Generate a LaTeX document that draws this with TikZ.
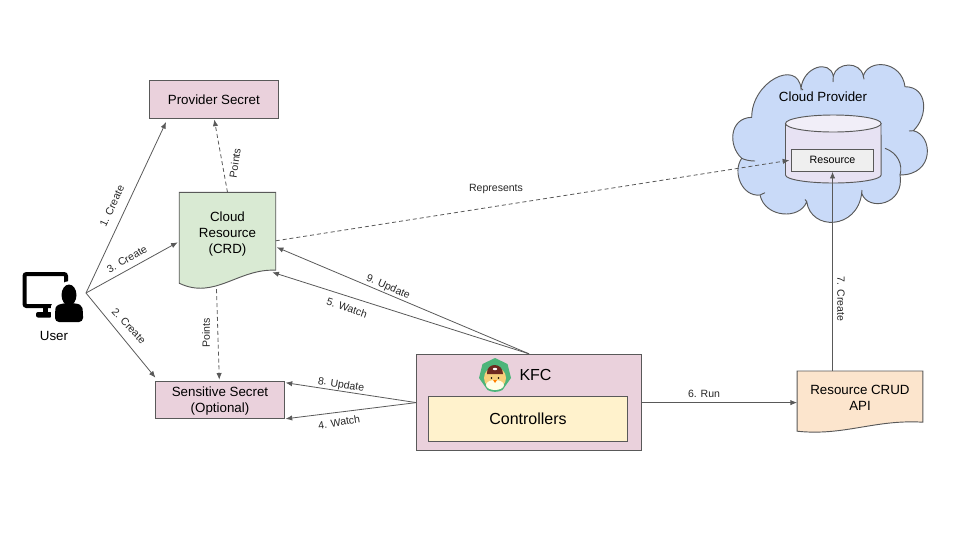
\documentclass[tikz,border=0pt]{standalone}
\usepackage{fontspec}
\setmainfont{Liberation Sans}
\usetikzlibrary{positioning, arrows.meta}
\definecolor{linegray}{HTML}{595959}
\definecolor{pinkfill}{HTML}{EAD1DC}
\definecolor{greenfill}{HTML}{D9EAD3}
\definecolor{yellowfill}{HTML}{FFF2CC}
\definecolor{orangefill}{HTML}{FCE5CD}
\definecolor{bluefill}{HTML}{C9DAF8}
\definecolor{lavfill}{HTML}{E7E2F3}
\definecolor{lavtop}{HTML}{F1EEF8}
\definecolor{grayfill}{HTML}{EFEFEF}
\definecolor{logogreen}{HTML}{4DB57A}
\definecolor{hatbrown}{HTML}{6E2A20}
\definecolor{chickyellow}{HTML}{F6CF7B}
\tikzstyle{block}=[draw=linegray,rectangle,inner sep=0pt,align=center,line width=.7pt]
\tikzstyle{every node}=[font=\fontsize{10}{12.2}\selectfont]
\tikzstyle{lbl}=[inner sep=0pt,font=\fontsize{7.9}{9}\selectfont,text=black!85]
\tikzstyle{outline}=[draw=linegray,line width=.7pt]
\tikzstyle{link}=[-{Latex[length=5pt,width=4pt]},draw=linegray,line width=.6pt]
\tikzstyle{hint}=[dash pattern=on 3pt off 2.2pt]
\begin{document}
\begin{tikzpicture}[x=.75pt,y=-.75pt,>=latex,node distance=34pt]
            \useasboundingbox (0,0) rectangle (960,540);
            % cloud
            \draw[outline,fill=bluefill] (751.7,117.3) .. controls (751.7,81.7) and (797.3,58.7) .. (801,88.3)
                .. controls (803.3,66.7) and (829.7,59) .. (833.3,76)
                .. controls (836.7,62) and (860,60.7) .. (863.3,76)
                .. controls (868.3,58.3) and (901.7,60.7) .. (905,86.7)
                .. controls (928.3,86.7) and (928.3,116.7) .. (913.3,130.7)
                .. controls (933,135) and (935,175) .. (900,175)
                .. controls (905,205) and (868,212) .. (861.7,193.3)
                .. controls (857,230) and (811,231) .. (806.7,201.7)
                .. controls (800,220) and (765,218) .. (760,195)
                .. controls (742,197) and (732,172) .. (741.7,158.3)
                .. controls (728,146) and (729,118) .. (751.7,117.3) -- cycle;
            \draw[outline] (885,148.3) .. controls (898,153) and (903,165) .. (900,175);
            \draw[outline] (741.7,158.3) .. controls (745,160) and (750,161) .. (755,161);
            \draw[outline] (760,195) -- (765,192.7) (806.7,201.7) -- (805,199.5) (861.7,193.3) -- (862,190)
                (801,88.3) -- (803,90) (833.3,76) -- (833,82) (863.3,76) -- (864,79.3) (913.3,130.7) -- (909,131);
            % cylinder
            \draw[outline,fill=lavfill] (785.5,123.5) -- (785.5,175) arc[start angle=180,end angle=0,x radius=47.8,y radius=8] -- (881,123.5) -- cycle;
            \draw[outline,fill=lavtop] (833.3,123.5) ellipse[x radius=47.8,y radius=8.5];
            \node (cloudname) at (823,97) {Cloud Provider};
            \node[block, fill=grayfill, minimum width=61.8pt, minimum height=16.5pt] (resource) at (832.5,160.3) {\fontsize{8}{9}\selectfont Resource};
            % boxes
            \node[block, fill=pinkfill, minimum width=96.4pt, minimum height=28.5pt] (provider) at (213.8,99.5) {Provider Secret};
            \node[block, fill=pinkfill, minimum width=96.9pt, minimum height=27.5pt] (sensitive) at (220,400) {};
            \node[align=center] (sensitivename) at (220,401.3) {Sensitive Secret\\(Optional)};
            \node[block, fill=pinkfill, minimum width=168.4pt, minimum height=72.5pt] (kfc) at (529,402.6) {};
            \node[block, fill=yellowfill, minimum width=149.25pt, minimum height=34pt] (controllers) at (528,418.7) {\fontsize{12}{14}\selectfont Controllers};
            \node (kfcname) at (535.5,374.5) {\fontsize{12}{14}\selectfont KFC};
            % documents
            \node[minimum width=72pt, minimum height=58pt, inner sep=0pt] (crd) at (227.5,231.3) {};
            \draw[outline,fill=greenfill] (crd.south west) -- (crd.north west) -- (crd.north east) -- (crd.south east)
                .. controls ([shift={(-37.5,-2)}]crd.south east) and ([shift={(35.5,30)}]crd.south west) .. ([shift={(0,13)}]crd.south west) -- cycle;
            \node[align=center] (crdname) at ([yshift=-2pt]crd.center) {Cloud\\Resource\\(CRD)};
            \node[minimum width=94pt, minimum height=38pt, inner sep=0pt] (crud) at (860,396.6) {};
            \draw[outline,fill=orangefill] (crud.south west) -- (crud.north west) -- (crud.north east) -- (crud.south east)
                .. controls ([shift={(-48,-3)}]crud.south east) and ([shift={(47,14)}]crud.south west) .. ([shift={(0,9)}]crud.south west) -- cycle;
            \node[align=center] (crudname) at ([yshift=-1pt]crud.center) {Resource CRUD\\API};
            % user icon
            \draw[black,line width=3pt,rounded corners=1.5pt] (24.5,274) rectangle (66,306);
            \fill[black] (43,307) rectangle (48,313);
            \fill[black,rounded corners=1.5pt] (36,312) rectangle (52,317.5);
            \fill[white] (69,295) ellipse[x radius=11,y radius=14];
            \fill[white,rounded corners=4pt] (51,301) rectangle (86,325);
            \fill[black] (69,295) ellipse[x radius=7.5,y radius=10.5];
            \fill[black,rounded corners=3pt] (55,322) -- (55,312) .. controls (56,305) and (61,304) .. (64,303) -- (74,303) .. controls (78,304) and (82,305) .. (83,312) -- (83,322) -- cycle;
            \node (username) at (54,335.5) {User};
            \coordinate (userhub) at (86,293);
            % logo
            \begin{scope}[shift={(495,375)}]
                \fill[logogreen] (0,-17) -- (12.5,-11) -- (16,3) -- (7.5,15) .. controls (3,17.5) and (-3,17.5) .. (-7.5,15) -- (-16,3) -- (-12.5,-11) -- cycle;
                \fill[chickyellow] (0,3) ellipse[x radius=11,y radius=11];
                \fill[white!90!yellow] (0,10) ellipse[x radius=9,y radius=5];
                \fill[hatbrown] (-8,-1) .. controls (-9,-13) and (8,-13) .. (8,-1) -- cycle;
                \fill[white] (0,-6) ellipse[x radius=2.2,y radius=1.2];
                \fill[black] (-3.5,3) circle[radius=.9] (3.5,3) circle[radius=.9];
                \fill[orange] (-2,5) -- (2,5) -- (0,8) -- cycle;
            \end{scope}
            % connectors
            \draw[link] (userhub) -- ([shift={(17,3)}]provider.south west);
            \draw[link] (userhub) -- ([shift={(-1.5,11)}]crd.west);
            \draw[link] (userhub) -- ([shift={(.5,-3.5)}]sensitive.north west);
            \draw[link,hint] (crd.north) -- ([shift={(.5,.5)}]provider.south);
            \draw[link,hint] ([shift={(-11,19)}]crd.south) -- ([shift={(-.7,-1.5)}]sensitive.north);
            \draw[link,hint] ([shift={(0,9.5)}]crd.east) -- ([shift={(-1.5,0)}]resource.west);
            \draw[link] (kfc.north) -- ([shift={(1,16)}]crd.east);
            \draw[link] (kfc.north) -- ([shift={(-3.5,2)}]crd.south east);
            \draw[link] (kfc.west) -- ([shift={(.5,1.5)}]sensitive.north east);
            \draw[link] (kfc.west) -- ([shift={(.5,0)}]sensitive.south east);
            \draw[link] (kfc.east) -- (kfc.east -| crud.west);
            \draw[link] (crud.north -| resource.south) -- (resource.south);
            % labels
            \node[lbl, rotate=65] (createa) at (112,206) {1. Create};
            \node[lbl, rotate=-47] (createb) at (129,326) {2. Create};
            \node[lbl, rotate=30] (createc) at (127,259) {3. Create};
            \node[lbl, rotate=82] (pointsa) at (235,163) {Points};
            \node[lbl, rotate=90] (pointsb) at (206,333) {Points};
            \node[lbl] (represents) at (496,189) {Represents};
            \node[lbl, rotate=-24] (updatea) at (388,287) {9. Update};
            \node[lbl, rotate=-19] (watcha) at (347,308) {5. Watch};
            \node[lbl, rotate=-9] (updateb) at (341,385) {8. Update};
            \node[lbl, rotate=9] (watchb) at (339,422) {4. Watch};
            \node[lbl] (run) at (704,394) {6. Run};
            \node[lbl, rotate=-90] (createe) at (841,299) {7. Create};
        \end{tikzpicture}
\end{document}
